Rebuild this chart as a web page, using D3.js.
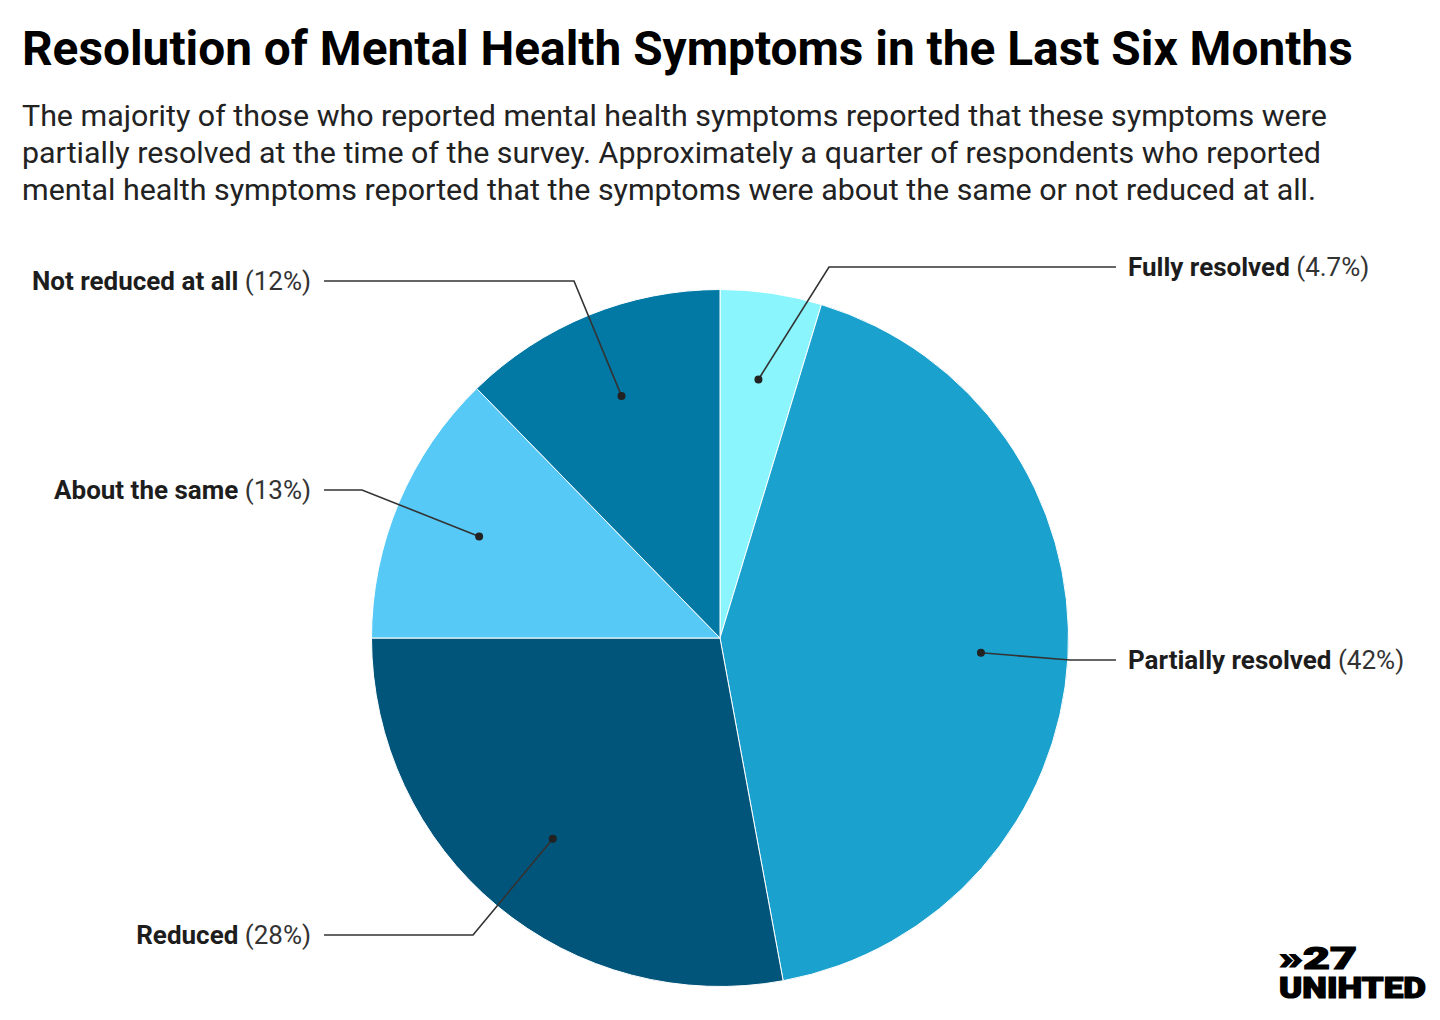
<!DOCTYPE html>
<html><head><meta charset="utf-8">
<script src="https://cdn.jsdelivr.net/npm/d3@7"></script>
<style>
body{margin:0;background:#fff;font-family:Roboto,"Noto Sans",sans-serif;}
svg{display:block}
</style></head>
<body><svg id="chart" width="1440" height="1020"></svg>
<script>
const categories = ["Fully resolved","Partially resolved","Reduced","About the same","Not reduced at all"];
const values = [4.7, 42.4, 27.9, 12.7, 12.3];
const valueLabels = ["4.7%","42%","28%","13%","12%"];
const colors = ["#8af5fd","#1aa1cd","#01557b","#57c9f6","#0179a4"];
const subtitleLines = [
 "The majority of those who reported mental health symptoms reported that these symptoms were",
 "partially resolved at the time of the survey. Approximately a quarter of respondents who reported",
 "mental health symptoms reported that the symptoms were about the same or not reduced at all."
];

const svg = d3.select("#chart");
svg.append("text").attr("x",22).attr("y",65).attr("font-size",47.8).attr("font-weight",700)
  .attr("fill","#000").text("Resolution of Mental Health Symptoms in the Last Six Months");
subtitleLines.forEach((l,i)=>{
  svg.append("text").attr("x",22).attr("y",126+i*37).attr("font-size",30.4).attr("fill","#222").text(l);
});

const cx=720, cy=638, R=348.5;
const data = categories.map((c,i)=>({name:c,value:values[i],label:valueLabels[i],color:colors[i]}));
const pie = d3.pie().value(d=>d.value).sort(null);
const arcs = pie(data);
const arc = d3.arc().innerRadius(0).outerRadius(R);
const g = svg.append("g").attr("transform",`translate(${cx},${cy})`);
g.selectAll("path").data(arcs).join("path").attr("d",arc).attr("fill",d=>d.data.color)
 .attr("stroke","#fff").attr("stroke-width",1);

const inner = d3.arc().innerRadius(R*0.75).outerRadius(R*0.75);
const labelY = {"Fully resolved":267,"Partially resolved":660,"Reduced":935,"About the same":490,"Not reduced at all":281};
const elbowX = {"Fully resolved":829,"Partially resolved":1070,"Reduced":473,"About the same":362,"Not reduced at all":574};
arcs.forEach(a=>{
  const [px,py] = inner.centroid(a);
  const x0 = cx+px, y0 = cy+py;
  const right = (a.startAngle+a.endAngle)/2 < Math.PI;
  const ly = labelY[a.data.name];
  const ex = elbowX[a.data.name];
  const endX = right ? 1116 : 324;
  svg.append("path").attr("d",`M${x0},${y0}L${ex},${ly}L${endX},${ly}`)
    .attr("fill","none").attr("stroke","#333").attr("stroke-width",1.6);
  svg.append("circle").attr("cx",x0).attr("cy",y0).attr("r",4).attr("fill","#222");
  const t = svg.append("text").attr("y",ly+9).attr("font-size",26).attr("fill","#1d1d1d")
    .attr("x", right ? 1128 : 311).attr("text-anchor", right ? "start":"end");
  t.append("tspan").attr("font-weight",700).text(a.data.name);
  t.append("tspan").attr("font-weight",400).attr("fill","#333").text(" ("+a.data.label+")");
});

// logo (one text element, two lines)
const logo = svg.append("text").attr("font-weight",900).attr("fill","#000")
  .attr("stroke","#000").attr("stroke-width",1.2);
logo.append("tspan").attr("x",1279).attr("y",969).attr("font-size",31)
  .attr("textLength",78).attr("lengthAdjust","spacingAndGlyphs").text("»27");
logo.append("tspan").attr("x",1279).attr("y",998).attr("font-size",29)
  .attr("textLength",147).attr("lengthAdjust","spacingAndGlyphs").text("UNIHTED");
</script></body></html>
